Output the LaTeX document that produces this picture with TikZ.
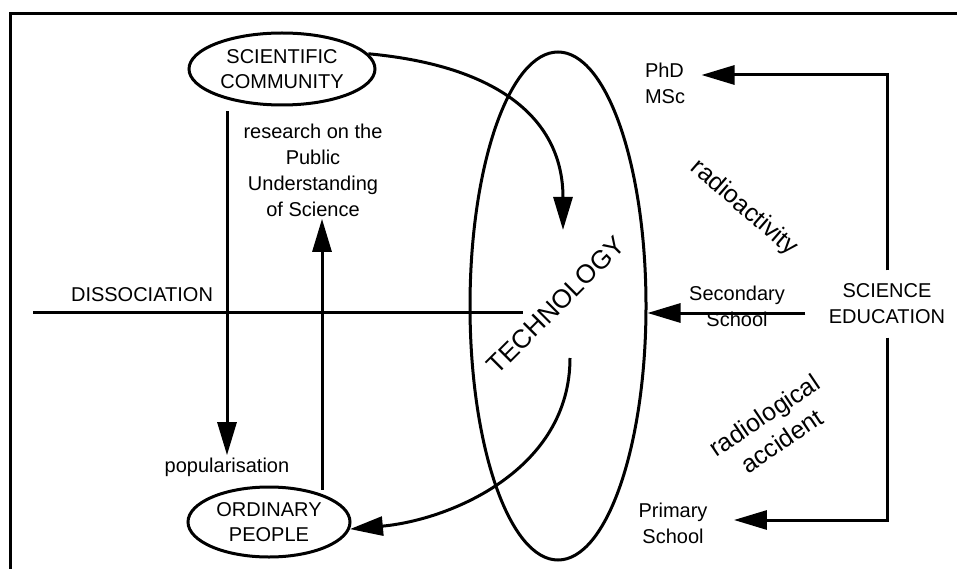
\documentclass[tikz,border=0pt]{standalone}
\usepackage{fontspec}
\setmainfont{Liberation Sans}
\usetikzlibrary{shapes.geometric, arrows.meta}

\begin{document}
\begin{tikzpicture}[x=1pt, y=-1pt, line width=3pt,
  blob/.style={draw, ellipse, inner sep=0pt, align=center, font=\fontsize{20}{25}\selectfont},
  lbl/.style={inner sep=1pt, align=center, font=\fontsize{20}{26}\selectfont},
  slant/.style={inner sep=1pt, align=center, font=\fontsize{25}{31}\selectfont},
  arr/.style={-{Triangle[length=33pt, width=19pt]}}]
\useasboundingbox (0,0) rectangle (957,569);
\draw (10,569) -- (10,14) -- (957,14);

\path (282,69) node[blob, minimum width=186pt, minimum height=72pt] (sc) {SCIENTIFIC\\COMMUNITY};
\path (269,522) node[blob, minimum width=162pt, minimum height=70pt] (op) {ORDINARY\\PEOPLE};
\path (558,306) node[draw, ellipse, minimum width=176pt, minimum height=508pt] (techring) {};
\path (556,305) node[rotate=45, font=\fontsize{26}{30}\selectfont] (tech) {TECHNOLOGY};

\path (142,295) node[lbl] (diss) {DISSOCIATION};
\path (313,170) node[lbl] (res) {research on the\\Public\\Understanding\\of Science};
\path (227,467) node[lbl] (pop) {popularisation};
\path (887,304) node[lbl, inner xsep=22pt, inner ysep=12pt] (se) {SCIENCE\\EDUCATION};
\path (665,83) node[lbl, align=left] (phd) {PhD\\MSc};
\path (737,306) node[lbl] (sec) {Secondary\\School};
\path (673,523) node[lbl] (prim) {Primary\\School};
\path (744,208) node[slant, rotate=-41] (rad) {radioactivity};
\path (773,428) node[slant, rotate=34] (acc) {radiological\\accident};

\coordinate (dl) at (33,312);
\coordinate (dr) at (523,312);
\coordinate (ru) at (322,490);
\coordinate (ta) at (563,230);
\coordinate (tb) at (570,358);

\draw (dl) -- (dr);
\draw[arr] ([yshift=-5pt]sc.south -| pop.north) -- (pop.north);
\draw[arr] (ru) -- (ru |- res.south);
\draw[arr] (sc.10) .. controls (500,66) and (563,120) .. (ta);
\draw[arr] (tb) .. controls (570,470) and (450,520) .. (op.-5);

\draw[arr] (se.north) |- ([xshift=14pt, yshift=8pt]phd.east);
\draw[arr] ([yshift=-9pt]se.west) -- ([yshift=-9pt]se.west -| techring.east);
\draw[arr] (se.south) |- ([xshift=24pt, yshift=3pt]prim.east);
\end{tikzpicture}
\end{document}
